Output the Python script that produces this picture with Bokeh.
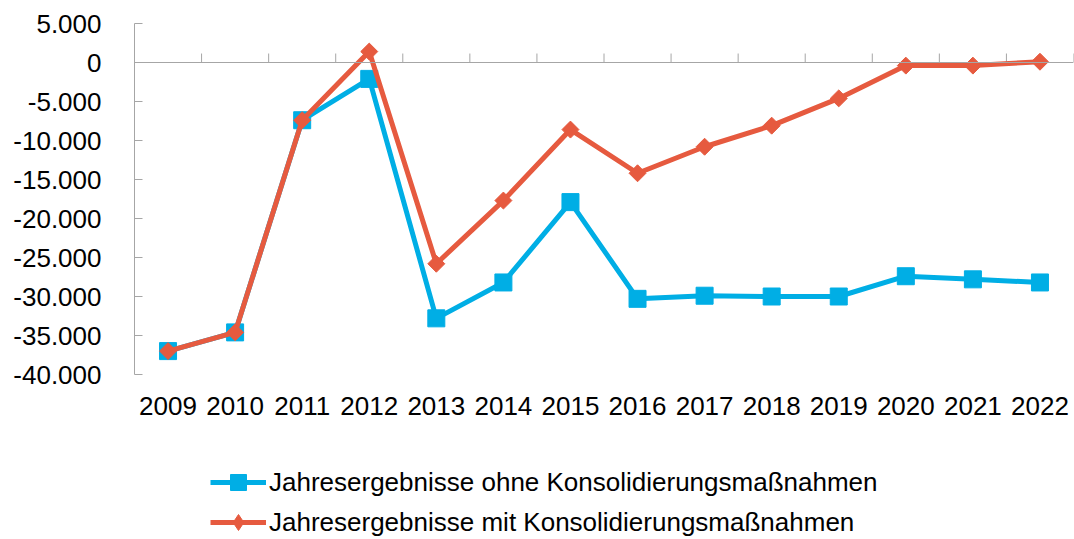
from bokeh.plotting import figure
from bokeh.layouts import column
from bokeh.models import FactorRange, Range1d, FixedTicker, Legend, LegendItem, ColumnDataSource, Span
from bokeh.transform import dodge
from bokeh.embed import file_html
from bokeh.resources import INLINE

years = ["2009", "2010", "2011", "2012", "2013", "2014", "2015",
         "2016", "2017", "2018", "2019", "2020", "2021", "2022"]
ohne = [-37000, -34600, -7400, -2100, -32800, -28200, -17900,
        -30300, -29900, -30000, -30000, -27400, -27800, -28200]
mit = [-37000, -34600, -7400, 1400, -25800, -17700, -8600,
       -14200, -10800, -8100, -4600, -400, -400, 100]
y_ticks = [5000, 0, -5000, -10000, -15000, -20000, -25000, -30000, -35000, -40000]
y_tick_labels = ["5.000", "0", "-5.000", "-10.000", "-15.000", "-20.000",
                 "-25.000", "-30.000", "-35.000", "-40.000"]
label_ohne = "Jahresergebnisse ohne Konsolidierungsmaßnahmen"
label_mit = "Jahresergebnisse mit Konsolidierungsmaßnahmen"

BLUE = "#00AEE5"
RED = "#E65A3F"
GRAY = "#A6A6A6"
FONT = "Liberation Sans"

p = figure(x_range=FactorRange(*years), y_range=Range1d(-40000, 5000),
           width=1074, height=430, output_backend="svg", toolbar_location=None,
           min_border_left=134, min_border_right=1, min_border_top=23, min_border_bottom=56)
p.outline_line_color = None
p.grid.visible = False

# y axis
p.yaxis.ticker = FixedTicker(ticks=y_ticks)
p.yaxis.major_label_overrides = dict(zip(y_ticks, y_tick_labels))
p.yaxis.major_tick_in = 8
p.yaxis.major_tick_out = 0
p.yaxis.minor_tick_line_color = None
p.yaxis.axis_line_color = GRAY
p.yaxis.major_tick_line_color = GRAY
p.yaxis.major_label_standoff = 33
p.yaxis.major_label_text_font = FONT
p.yaxis.major_label_text_font_size = "26px"
p.yaxis.major_label_text_color = "black"

# x axis (labels only at the bottom)
p.xaxis.axis_line_color = None
p.xaxis.major_tick_line_color = None
p.xaxis.minor_tick_line_color = None
p.xaxis.major_label_standoff = 16
p.xaxis.major_label_text_font = FONT
p.xaxis.major_label_text_font_size = "26px"
p.xaxis.major_label_text_color = "black"

# category axis line at y = 0 with upward ticks between categories
p.add_layout(Span(location=0, dimension="width", line_color=GRAY, line_width=1))
tick_src = ColumnDataSource(dict(x=years))
p.segment(x0=dodge("x", 0.5, range=p.x_range), y0=0,
          x1=dodge("x", 0.5, range=p.x_range), y1=1150,
          source=tick_src, line_color=GRAY, line_width=1)

src = ColumnDataSource(dict(x=years, ohne=ohne, mit=mit))
p.line("x", "ohne", source=src, line_color=BLUE, line_width=5)
p.scatter("x", "ohne", source=src, marker="square", size=17,
          fill_color=BLUE, line_color=BLUE, line_width=1, line_join="round")
p.line("x", "mit", source=src, line_color=RED, line_width=5)
p.scatter("x", "mit", source=src, marker="square", angle=0.785398, size=12,
          fill_color=RED, line_color=RED, line_width=1)

# legend panel (separate figure below, with the same styled series kept out of view)
p2 = figure(x_range=FactorRange(*years), y_range=Range1d(100000, 200000),
            width=1074, height=109, output_backend="svg", toolbar_location=None,
            x_axis_location=None, y_axis_location=None,
            min_border_left=0, min_border_right=0, min_border_top=0, min_border_bottom=0)
p2.outline_line_color = None
p2.grid.visible = False
bl = p2.line("x", "ohne", source=src, line_color=BLUE, line_width=5)
bs = p2.scatter("x", "ohne", source=src, marker="square", size=18,
                fill_color=BLUE, line_color=BLUE, line_width=1, line_join="round")
rl = p2.line("x", "mit", source=src, line_color=RED, line_width=5)
rs = p2.scatter("x", "mit", source=src, marker="diamond", size=20,
                fill_color=RED, line_color=RED, line_width=1)

legend = Legend(items=[LegendItem(label=label_ohne, renderers=[bl, bs]),
                       LegendItem(label=label_mit, renderers=[rl, rs])],
                location=(76, -3))
legend.label_text_font = FONT
legend.label_text_font_size = "26px"
legend.label_text_color = "black"
legend.glyph_width = 56
legend.glyph_height = 40
legend.label_height = 40
legend.spacing = 0
legend.padding = 0
legend.margin = 0
legend.label_standoff = 3
legend.border_line_color = None
legend.background_fill_alpha = 0
p2.add_layout(legend)

layout = column(p, p2, spacing=0)
open("out.html", "w").write(file_html(layout, INLINE))
